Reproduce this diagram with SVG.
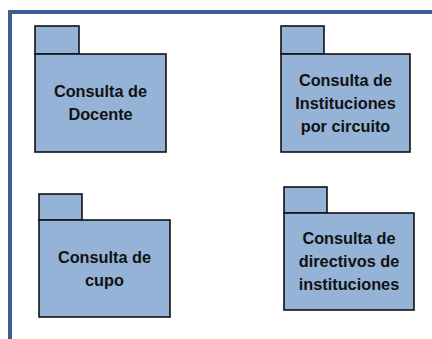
<svg xmlns="http://www.w3.org/2000/svg" width="432" height="339" viewBox="0 0 432 339">
<style>
.pk{fill:#95b3d7;stroke:#111;stroke-width:1.6}
.t{font-family:"Liberation Sans",Arial,sans-serif;font-weight:bold;font-size:16.3px;fill:#111;text-anchor:middle}
.fr{fill:none;stroke:#3b6091;stroke-width:4}
</style>
<rect width="432" height="339" fill="#fff"/>
<path class="fr" d="M10 339 V12 H432"/>
<g id="p1">
<rect class="pk" x="35" y="26" width="44" height="28"/>
<rect class="pk" x="35" y="54" width="131" height="98"/>
<text class="t" x="100.5" y="97">Consulta de</text>
<text class="t" x="100.5" y="120">Docente</text>
</g>
<g id="p2">
<rect class="pk" x="281" y="26" width="43" height="28"/>
<rect class="pk" x="281" y="54" width="129" height="98"/>
<text class="t" x="345.5" y="86">Consulta de</text>
<text class="t" x="345.5" y="109">Instituciones</text>
<text class="t" x="345.5" y="132">por circuito</text>
</g>
<g id="p3">
<rect class="pk" x="39" y="194" width="43" height="26"/>
<rect class="pk" x="39" y="220" width="131" height="97"/>
<text class="t" x="104.5" y="263">Consulta de</text>
<text class="t" x="104.5" y="286">cupo</text>
</g>
<g id="p4">
<rect class="pk" x="284" y="187" width="43" height="26"/>
<rect class="pk" x="284" y="213" width="130" height="97"/>
<text class="t" x="349" y="244">Consulta de</text>
<text class="t" x="349" y="267">directivos de</text>
<text class="t" x="349" y="290">instituciones</text>
</g>
<g id="connectors"/>
</svg>
